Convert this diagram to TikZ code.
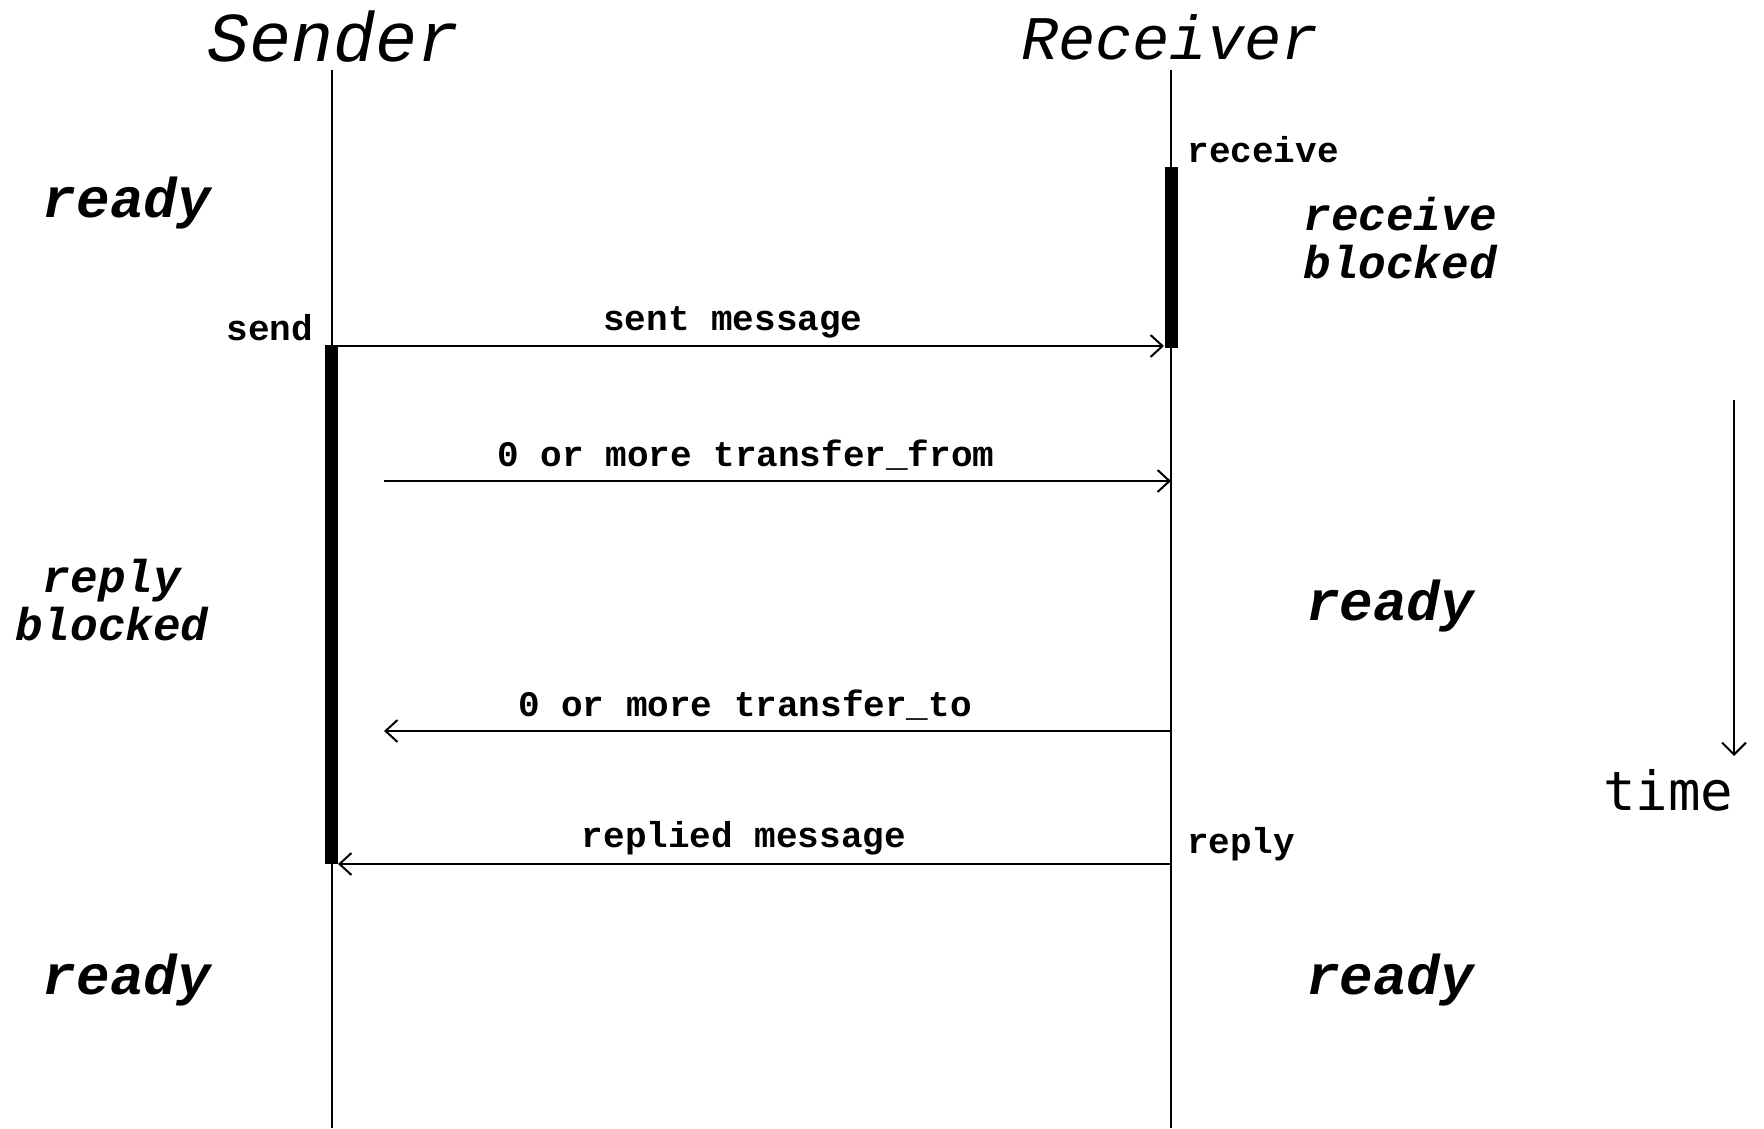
\documentclass[tikz,border=0pt]{standalone}
\usepackage{fontspec}
\setmonofont{Liberation Mono}
\newfontfamily\timefont{DejaVu Sans Mono}
\usetikzlibrary{arrows.meta}
\begin{document}
\begin{tikzpicture}[x=0.5pt,y=-0.5pt,
  lifeline/.style={line width=1pt},
  busybar/.style={line width=6.5pt},
  msg/.style={line width=1.2pt,-{Straight Barb[length=6pt,width=11pt,line width=1pt]}},
  msglabel/.style={font=\ttfamily\bfseries\fontsize{18}{20}\selectfont, inner sep=0pt},
  actor/.style={font=\ttfamily\itshape\fontsize{35}{40}\selectfont, inner sep=0pt},
  statelabel/.style={font=\ttfamily\bfseries\itshape\fontsize{23}{24}\selectfont, inner sep=0pt, align=center},
  readylabel/.style={font=\ttfamily\bfseries\itshape\fontsize{28}{30}\selectfont, inner sep=0pt},
  timelabel/.style={font=\timefont\fontsize{27}{30}\selectfont, inner sep=0pt},
]
\useasboundingbox (0,0) rectangle (1764,1128);

% actors
\node[actor] (sender) at (334,37) {Sender};
\node[actor, font=\ttfamily\itshape\fontsize{31}{36}\selectfont] (receiver) at (1170,37) {Receiver};

% lifelines
\coordinate (Stop) at (332,70);
\coordinate (Sbot) at (332,1128);
\coordinate (Rtop) at (1171,70);
\coordinate (Rbot) at (1171,1128);
\draw[lifeline] (Stop) -- (Sbot);
\draw[lifeline] (Rtop) -- (Rbot);

% blocked intervals
\coordinate (SbarA) at (331.5,345);
\coordinate (SbarB) at (331.5,864);
\coordinate (RbarA) at (1171,167);
\coordinate (RbarB) at (1171,348);
\draw[busybar] (SbarA) -- (SbarB);
\draw[busybar] (RbarA) -- (RbarB);

% messages
\coordinate (m1s) at (332,346);
\coordinate (m1e) at (1164,346);
\coordinate (m2s) at (384,481);
\coordinate (m2e) at (1171,481);
\coordinate (m3s) at (1171,731);
\coordinate (m3e) at (384,731);
\coordinate (m4s) at (1171,864);
\coordinate (m4e) at (338,864);
\draw[msg] (m1s) -- (m1e);
\draw[msg] (m2s) -- (m2e);
\draw[msg] (m3s) -- (m3e);
\draw[msg] (m4s) -- (m4e);

\node[msglabel] (lsent) at (733,322) {sent message};
\node[msglabel] (lfrom) at (746,455) {0 or more transfer\_from};
\node[msglabel] (lto) at (745,705) {0 or more transfer\_to};
\node[msglabel] (lreplied) at (744,838) {replied message};
\node[msglabel] (lsend) at (270,328) {send};
\node[msglabel] (lreceive) at (1263,150) {receive};
\node[msglabel] (lreply) at (1241,844) {reply};

% process states
\node[readylabel] (sready1) at (127,203) {ready};
\node[statelabel] (rblocked) at (1400,238) {receive\\blocked};
\node[statelabel] (sblocked) at (112,600) {reply\\blocked};
\node[readylabel] (rready1) at (1390,606) {ready};
\node[readylabel] (sready2) at (127,980) {ready};
\node[readylabel] (rready2) at (1390,980) {ready};

% time axis
\coordinate (t0) at (1734,400);
\coordinate (t1) at (1734,756);
\draw[lifeline,-{Straight Barb[length=6pt,width=12pt,line width=1pt]}] (t0) -- (t1);
\node[timelabel] (time) at (1668,790) {time};
\end{tikzpicture}
\end{document}
